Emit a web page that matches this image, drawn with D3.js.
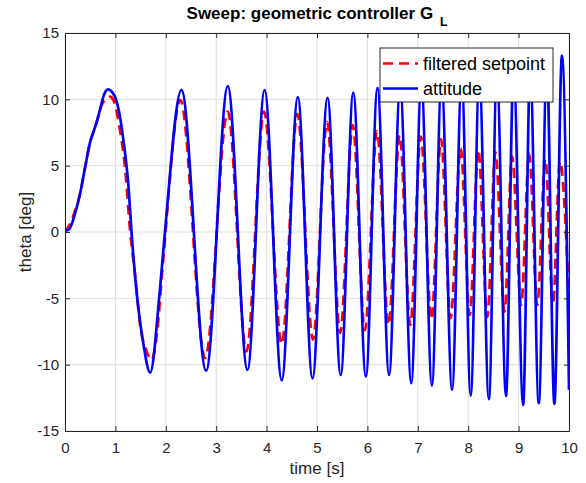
<!DOCTYPE html>
<html>
<head>
<meta charset="utf-8">
<script src="https://cdn.jsdelivr.net/npm/d3@7"></script>
<style>
  body { margin: 0; background: #fff; }
  svg { display: block; font-family: "Liberation Sans", Arial, Helvetica, sans-serif; }
</style>
</head>
<body>
<div id="chart-area"></div>
<script>
// SVG size
var width = 586,
	height = 483;

// tick labels
var xTicks = [0, 1, 2, 3, 4, 5, 6, 7, 8, 9, 10];
var yTicks = [-15, -10, -5, 0, 5, 10, 15];

// filtered setpoint (red dashed)
var setpointTime = [0, 0.1, 0.2, 0.3, 0.4, 0.5, 0.56, 0.63, 0.72, 0.89, 0.96, 1.08, 1.19, 1.29, 1.39, 1.49, 1.62, 1.72, 1.82, 1.95,
	2.29, 2.78, 3.23, 3.60, 3.95, 4.30, 4.61, 4.92, 5.20, 5.46, 5.71, 5.95, 6.19, 6.42, 6.64, 6.85, 7.06, 7.27, 7.46, 7.65,
	7.85, 8.03, 8.20, 8.38, 8.54, 8.72, 8.87, 9.05, 9.21, 9.37, 9.53, 9.68, 9.82, 10.0];
var setpointTheta = [0, 0.6, 1.6, 2.9, 4.9, 6.8, 7.5, 8.3, 9.5, 10.2, 9.95, 7.9, 4.9, 0.15, -3.2, -7.0, -9.0, -9.65, -7.8, -2.0,
	9.95, -9.5, 9.07, -9.0, 9.07, -8.45, 8.9, -8.1, 8.3, -7.6, 8.06, -7.4, 7.6, -7.0, 7.3, -7.0, 7.2, -6.6, 7.0, -6.5,
	6.3, -6.25, 6.2, -6.4, 6.0, -6.0, 5.7, -5.5, 5.9, -5.5, 5.5, -5.45, 5.3, -5.2];

// attitude (blue solid)
var attitudeTime = [0, 0.08, 0.2, 0.3, 0.4, 0.5, 0.56, 0.63, 0.7, 0.77, 0.85, 0.99, 1.16, 1.26, 1.32, 1.42, 1.55, 1.69, 1.88, 1.99,
	2.31, 2.80, 3.23, 3.62, 3.96, 4.30, 4.62, 4.91, 5.21, 5.47, 5.72, 5.97, 6.20, 6.43, 6.65, 6.87, 7.07, 7.28, 7.47, 7.68,
	7.87, 8.05, 8.22, 8.41, 8.57, 8.75, 8.90, 9.09, 9.23, 9.40, 9.56, 9.71, 9.86, 10.0];
var attitudeTheta = [0.1, 0.2, 1.4, 2.9, 4.9, 6.8, 7.5, 8.3, 9.3, 10.3, 10.75, 10.2, 6.9, 3.4, 0, -4.5, -8.3, -10.6, -4.5, 0.3,
	10.72, -10.47, 11.0, -10.4, 10.7, -11.18, 10.17, -11.03, 10.12, -10.78, 10.5, -10.9, 10.87, -10.78, 11.0, -11.4, 11.2, -11.58, 11.4, -11.9,
	11.6, -12.34, 11.8, -12.6, 12.0, -12.36, 12.2, -13.04, 12.4, -12.9, 12.6, -12.96, 13.3, -11.9];

var legendLabels = ["filtered setpoint", "attitude"];

var axisColor = "#262626";
var gridColor = "#dfdfdf";

var svg = d3.select("#chart-area")
	.append("svg")
	.attr("width", width)
	.attr("height", height);

var x = d3.scaleLinear().domain([0, 10]).range([65, 569]);
var y = d3.scaleLinear().domain([-15, 15]).range([431, 33]);

// grid
svg.append("g").selectAll("line.gx")
	.data(xTicks)
	.enter().append("line")
	.attr("x1", function(d) { return x(d); })
	.attr("x2", function(d) { return x(d); })
	.attr("y1", y(15)).attr("y2", y(-15))
	.attr("stroke", gridColor).attr("stroke-width", 1);

svg.append("g").selectAll("line.gy")
	.data(yTicks)
	.enter().append("line")
	.attr("y1", function(d) { return y(d); })
	.attr("y2", function(d) { return y(d); })
	.attr("x1", x(0)).attr("x2", x(10))
	.attr("stroke", gridColor).attr("stroke-width", 1);

// lines
svg.append("clipPath").attr("id", "plot-clip")
	.append("rect")
	.attr("x", x(0)).attr("y", y(15))
	.attr("width", x(10) - x(0)).attr("height", y(-15) - y(15));

var line = d3.line()
	.x(function(d) { return x(d[0]); })
	.y(function(d) { return y(d[1]); })
	.curve(d3.curveMonotoneX);

var setpoint = d3.zip(setpointTime, setpointTheta);
var attitude = d3.zip(attitudeTime, attitudeTheta);

var plot = svg.append("g").attr("clip-path", "url(#plot-clip)");

plot.append("path")
	.datum(setpoint)
	.attr("d", line)
	.attr("fill", "none")
	.attr("stroke", "#ff0000")
	.attr("stroke-width", 2.7)
	.attr("stroke-dasharray", "10,6");

plot.append("path")
	.datum(attitude)
	.attr("d", line)
	.attr("fill", "none")
	.attr("stroke", "#0000ff")
	.attr("stroke-width", 2.7);

// axes (ticks inward on all four sides)
function styleAxis(g) {
	g.selectAll("path").attr("stroke", axisColor);
	g.selectAll("line").attr("stroke", axisColor);
	g.selectAll("text")
		.attr("fill", axisColor)
		.style("font-size", "15px")
		.style("font-family", "'Liberation Sans', Arial, Helvetica, sans-serif");
}

// plain hyphen for negatives, like the original
var plainFormat = function(d) { return String(d); };

svg.append("g")
	.attr("transform", "translate(0," + y(-15) + ")")
	.call(d3.axisBottom(x).tickValues(xTicks).tickFormat(plainFormat).tickSizeInner(-5).tickSizeOuter(0).tickPadding(11))
	.call(styleAxis);

svg.append("g")
	.attr("transform", "translate(" + x(0) + ",0)")
	.call(d3.axisLeft(y).tickValues(yTicks).tickFormat(plainFormat).tickSizeInner(-5).tickSizeOuter(0).tickPadding(6))
	.call(styleAxis);

svg.append("g")
	.attr("transform", "translate(0," + y(15) + ")")
	.call(d3.axisTop(x).tickValues(xTicks).tickSizeInner(-5).tickSizeOuter(0).tickFormat(""))
	.call(styleAxis);

svg.append("g")
	.attr("transform", "translate(" + x(10) + ",0)")
	.call(d3.axisRight(y).tickValues(yTicks).tickSizeInner(-5).tickSizeOuter(0).tickFormat(""))
	.call(styleAxis);

// axis labels
svg.append("text")
	.text("time [s]")
	.attr("x", (x(0) + x(10)) / 2)
	.attr("y", 474)
	.attr("text-anchor", "middle")
	.attr("fill", axisColor)
	.style("font-size", "17px");

svg.append("text")
	.text("theta [deg]")
	.attr("transform", "translate(31," + y(0) + ") rotate(-90)")
	.attr("text-anchor", "middle")
	.attr("fill", axisColor)
	.style("font-size", "17px");

// title
var title = svg.append("text")
	.attr("x", (x(0) + x(10)) / 2)
	.attr("y", 18.5)
	.attr("text-anchor", "middle")
	.attr("fill", "#000")
	.style("font-size", "17px")
	.style("font-weight", "bold");
title.append("tspan").text("Sweep: geometric controller G");
title.append("tspan").attr("dx", 7).attr("dy", 7).style("font-size", "12px").text("L");

// legend
var legend = svg.append("g");
legend.append("rect")
	.attr("x", 380).attr("y", 48)
	.attr("width", 173).attr("height", 54)
	.attr("fill", "#fff")
	.attr("stroke", axisColor)
	.attr("stroke-width", 1);

var legendRows = legend.selectAll("g.row")
	.data(legendLabels)
	.enter().append("g")
	.attr("transform", function(d, i) { return "translate(0," + (63.5 + i * 25) + ")"; });

legendRows.append("line")
	.attr("x1", 383).attr("x2", 418)
	.attr("y1", 0).attr("y2", 0)
	.attr("stroke", function(d, i) { return i == 0 ? "#ff0000" : "#0000ff"; })
	.attr("stroke-width", 2.7)
	.attr("stroke-dasharray", function(d, i) { return i == 0 ? "10,6" : null; });

legendRows.append("text")
	.text(function(d) { return d; })
	.attr("x", 423)
	.attr("dy", "0.35em")
	.attr("fill", "#000")
	.style("font-size", "18px");
</script>
</body>
</html>
